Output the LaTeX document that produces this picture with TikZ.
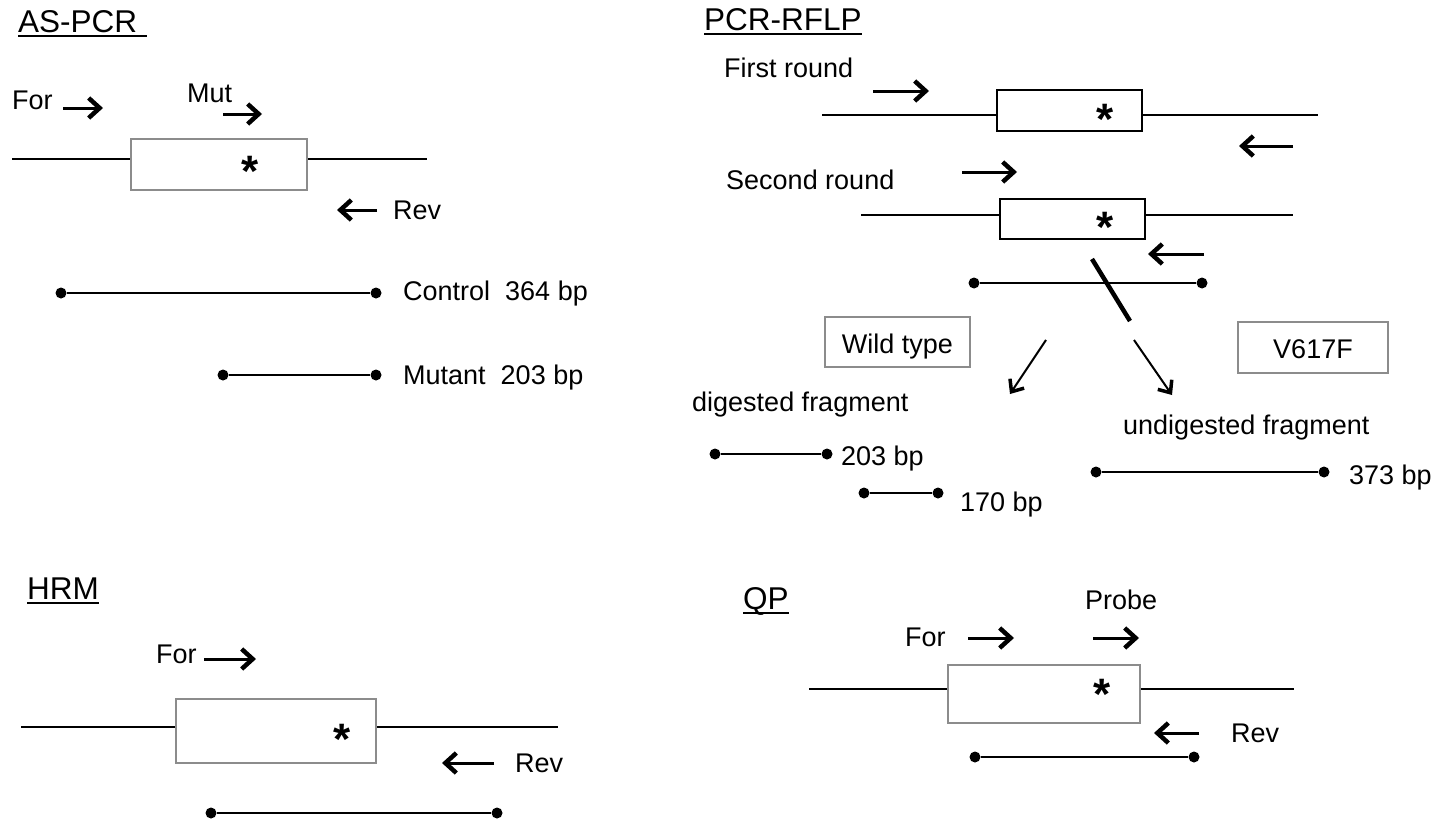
\documentclass[tikz,border=0pt]{standalone}
\usepackage{fontspec}
\setmainfont{Liberation Sans}
\usepackage{tikz}
\usetikzlibrary{arrows.meta}
\definecolor{boxgray}{gray}{0.55}

\begin{document}
\begin{tikzpicture}[x=1pt, y=-1pt,
    dna/.style={line width=2.5pt},
    exongray/.style={shape=rectangle, draw=boxgray, line width=2pt},
    exonblack/.style={shape=rectangle, draw=black, line width=2.2pt},
    tagbox/.style={shape=rectangle, draw=boxgray, line width=2pt},
    primer/.style={line width=3pt, -{Straight Barb[length=11pt, width=20pt, line width=4.5pt]}},
    digest/.style={line width=2pt, -{Straight Barb[length=10pt, width=17pt, line width=3.5pt]}},
    dot/.style={circle, fill=black, inner sep=0pt, minimum size=11pt},
    lbl/.style={font=\fontsize{27}{31}\selectfont, inner sep=0pt, anchor=base west},
    ttl/.style={font=\fontsize{31.5}{35}\selectfont, inner sep=0pt, anchor=base west},
    star/.style={font=\fontsize{44}{46}\selectfont\bfseries, inner sep=0pt, anchor=base},
    uline/.style={line width=2.2pt}]
    \path[fill=white, use as bounding box] (0,0) rectangle (1441,827);

    % AS-PCR
    \node[ttl](asT) at (18,32){AS-PCR\hspace*{10pt}};
    \draw[uline] ([yshift=-4pt]asT.base west) -- ([yshift=-4pt]asT.base east);
    \node[exongray, minimum width=176pt, minimum height=51pt](asB) at (219,164.5){};
    \node[star] at (250,186){*};
    \coordinate (asL) at (12,159);
    \coordinate (asR) at (427,159);
    \draw[dna] (asL) -- (asL -| asB.west);
    \draw[dna] (asL -| asB.east) -- (asR);
    \node[lbl](asFor) at (12,109){For};
    \coordinate (asF1) at (63,108); \coordinate (asF2) at (103,108);
    \draw[primer] (asF1) -- (asF2);
    \node[lbl](asMut) at (187,102){Mut};
    \coordinate (asM1) at (223,114); \coordinate (asM2) at (262,114);
    \draw[primer] (asM1) -- (asM2);
    \coordinate (asR1) at (377,210); \coordinate (asR2) at (337,210);
    \draw[primer] (asR1) -- (asR2);
    \node[lbl](asRev) at (393,219){Rev};
    \node[dot](ctl1) at (61,293){};
    \node[dot](ctl2) at (376,293){};
    \draw[dna] (ctl1) -- (ctl2);
    \node[lbl](ctlT) at (403,300){Control\ \ 364 bp};
    \node[dot](mut1) at (223,375){};
    \node[dot](mut2) at (376,375){};
    \draw[dna] (mut1) -- (mut2);
    \node[lbl](mutT) at (403,384){Mutant\ \ 203 bp};

    % PCR-RFLP
    \node[ttl](rfT) at (704,30){PCR-RFLP};
    \draw[uline] ([yshift=-4pt]rfT.base west) -- ([yshift=-4pt]rfT.base east);
    \node[lbl](first) at (724,77){First round};
    \node[exonblack, minimum width=145pt, minimum height=41pt](rfB1) at (1069.5,110.5){};
    \node[star] at (1105,134){*};
    \coordinate (rf1L) at (822,115);
    \coordinate (rf1R) at (1318,115);
    \draw[dna] (rf1L) -- (rf1L -| rfB1.west);
    \draw[dna] (rf1L -| rfB1.east) -- (rf1R);
    \coordinate (rfF1a) at (873,91); \coordinate (rfF1b) at (929,91);
    \draw[primer] (rfF1a) -- (rfF1b);
    \coordinate (rfR1a) at (1293,146); \coordinate (rfR1b) at (1239,146);
    \draw[primer] (rfR1a) -- (rfR1b);
    \node[lbl](second) at (726,189){Second round};
    \coordinate (rfF2a) at (962,172); \coordinate (rfF2b) at (1017,172);
    \draw[primer] (rfF2a) -- (rfF2b);
    \node[exonblack, minimum width=145pt, minimum height=40pt](rfB2) at (1072.5,219){};
    \node[star] at (1105,242){*};
    \coordinate (rf2L) at (861,215);
    \coordinate (rf2R) at (1293,215);
    \draw[dna] (rf2L) -- (rf2L -| rfB2.west);
    \draw[dna] (rf2L -| rfB2.east) -- (rf2R);
    \coordinate (rfR2a) at (1204,254); \coordinate (rfR2b) at (1148,254);
    \draw[primer] (rfR2a) -- (rfR2b);
    \node[dot](prd1) at (974,283){};
    \node[dot](prd2) at (1202,283){};
    \draw[dna] (prd1) -- (prd2);
    \coordinate (cut1) at (1092,259); \coordinate (cut2) at (1130,321);
    \draw[line width=4.5pt] (cut1) -- (cut2);
    \node[tagbox, minimum width=145pt, minimum height=50pt](wt) at (897.5,342){};
    \node[lbl, anchor=base] at (897.5,353){Wild type};
    \node[tagbox, minimum width=150pt, minimum height=51pt](mt) at (1313,347.5){};
    \node[lbl, anchor=base] at (1313,358){V617F};
    \coordinate (dgL1) at (1046,340); \coordinate (dgL2) at (1010,394);
    \draw[digest] (dgL1) -- (dgL2);
    \coordinate (dgR1) at (1134,340); \coordinate (dgR2) at (1172,395);
    \draw[digest] (dgR1) -- (dgR2);
    \node[lbl](dig) at (692,411){digested fragment};
    \node[lbl](undig) at (1123,434){undigested fragment};
    \node[dot](f203a) at (715,454){};
    \node[dot](f203b) at (827,454){};
    \draw[dna] (f203a) -- (f203b);
    \node[lbl] at (841,465){203 bp};
    \node[dot](f170a) at (864,493){};
    \node[dot](f170b) at (938,493){};
    \draw[dna] (f170a) -- (f170b);
    \node[lbl] at (960,511){170 bp};
    \node[dot](f373a) at (1096,472){};
    \node[dot](f373b) at (1324,472){};
    \draw[dna] (f373a) -- (f373b);
    \node[lbl] at (1349,484){373 bp};

    % HRM
    \node[ttl](hrT) at (27,599){HRM};
    \draw[uline] ([yshift=-4pt]hrT.base west) -- ([yshift=-4pt]hrT.base east);
    \node[lbl](hrFor) at (156,663){For};
    \coordinate (hrF1) at (204,659); \coordinate (hrF2) at (256,659);
    \draw[primer] (hrF1) -- (hrF2);
    \node[exongray, minimum width=200pt, minimum height=64pt](hrB) at (276,731){};
    \node[star] at (342,754){*};
    \coordinate (hrL) at (21,727);
    \coordinate (hrR) at (558,727);
    \draw[dna] (hrL) -- (hrL -| hrB.west);
    \draw[dna] (hrL -| hrB.east) -- (hrR);
    \coordinate (hrR1) at (494,763); \coordinate (hrR2) at (442,763);
    \draw[primer] (hrR1) -- (hrR2);
    \node[lbl](hrRev) at (515,772){Rev};
    \node[dot](hr1) at (211,813){};
    \node[dot](hr2) at (497,813){};
    \draw[dna] (hr1) -- (hr2);

    % QP
    \node[ttl](qpT) at (743,609){QP};
    \draw[uline] ([yshift=-4pt]qpT.base west) -- ([yshift=-4pt]qpT.base east);
    \node[lbl](qpProbe) at (1085,609){Probe};
    \node[lbl](qpFor) at (905,646){For};
    \coordinate (qpF1) at (968,638); \coordinate (qpF2) at (1014,638);
    \draw[primer] (qpF1) -- (qpF2);
    \coordinate (qpP1) at (1093,638); \coordinate (qpP2) at (1139,638);
    \draw[primer] (qpP1) -- (qpP2);
    \node[exongray, minimum width=192pt, minimum height=58pt](qpB) at (1044,694){};
    \node[star] at (1102,709){*};
    \coordinate (qpL) at (809,689);
    \coordinate (qpR) at (1294,689);
    \draw[dna] (qpL) -- (qpL -| qpB.west);
    \draw[dna] (qpL -| qpB.east) -- (qpR);
    \coordinate (qpR1) at (1199,733); \coordinate (qpR2) at (1154,733);
    \draw[primer] (qpR1) -- (qpR2);
    \node[lbl](qpRev) at (1231,742){Rev};
    \node[dot](qp1) at (975,757){};
    \node[dot](qp2) at (1194,757){};
    \draw[dna] (qp1) -- (qp2);
\end{tikzpicture}
\end{document}
